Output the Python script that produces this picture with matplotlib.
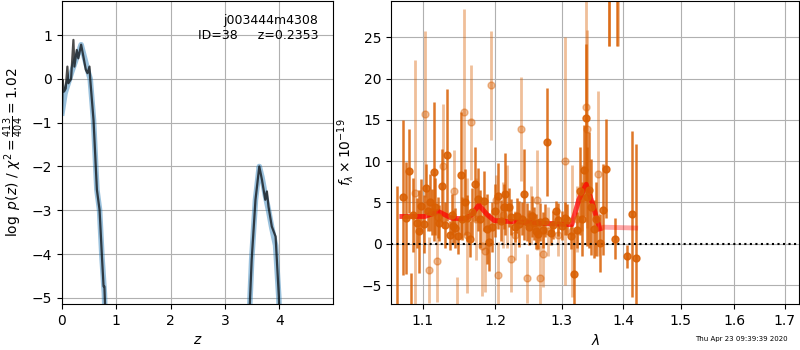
import numpy as np
import matplotlib
matplotlib.use("Agg")
import matplotlib.pyplot as plt
from matplotlib.ticker import FixedLocator, FixedFormatter, NullLocator

# ---------------- left panel: log p(z) ----------------
z_raw = [0.0, 0.012, 0.037, 0.068, 0.099, 0.117, 0.167, 0.21, 0.228, 0.272, 0.30,
         0.352, 0.395, 0.438, 0.469, 0.506, 0.519, 0.58, 0.642, 0.691, 0.735,
         0.765, 0.78, 0.796, 0.83,
         3.40, 3.45, 3.49, 3.56, 3.63, 3.68, 3.74, 3.77, 3.80, 3.86, 3.93, 3.99, 4.03]
logp_raw = [-0.78, -0.02, -0.29, -0.22, 0.28, -0.10, 0.0, 0.89, 0.28, 0.66, 0.47,
            0.78, 0.50, 0.21, 0.13, 0.28, 0.0, -0.94, -2.53, -2.99, -4.06,
            -4.74, -4.74, -5.3, -7.0,
            -7.0, -5.3, -4.13, -2.76, -2.0, -2.31, -2.76, -2.57, -2.92, -3.37, -3.60, -4.97, -7.0]

z_smooth = [0.0, 0.056, 0.179, 0.352, 0.488, 0.519, 0.58, 0.642, 0.691, 0.735, 0.78, 0.83,
            3.40, 3.45, 3.49, 3.56, 3.63, 3.68, 3.74, 3.80, 3.86, 3.93, 3.99, 4.03]
logp_smooth = [-0.78, -0.33, 0.16, 0.78, 0.13, 0.0, -0.94, -2.53, -2.99, -4.06, -4.9, -7.0,
               -7.0, -5.3, -4.13, -2.76, -2.0, -2.25, -2.65, -3.0, -3.4, -3.8, -5.0, -7.0]

label_obj = "j003444m4308"
label_id = "ID=38     z=0.2353"

# ---------------- right panel: spectrum ----------------
wave_a = [1.067, 1.075, 1.078, 1.082, 1.085, 1.088, 1.093, 1.095, 1.098, 1.102,
          1.104, 1.107, 1.110, 1.113, 1.115, 1.117, 1.120, 1.122, 1.126, 1.130,
          1.133, 1.137, 1.140, 1.141, 1.144, 1.148, 1.152, 1.154, 1.157, 1.160,
          1.164, 1.168, 1.172, 1.176, 1.179, 1.184, 1.188, 1.191, 1.196, 1.200,
          1.204, 1.208, 1.213, 1.215, 1.220, 1.224, 1.229, 1.232, 1.235, 1.239,
          1.243, 1.247, 1.250, 1.254, 1.258, 1.261, 1.264, 1.267, 1.271, 1.275,
          1.278, 1.283, 1.286, 1.291, 1.295, 1.300, 1.305, 1.309, 1.315, 1.320,
          1.325, 1.329, 1.333, 1.335, 1.338, 1.340, 1.343, 1.347, 1.352, 1.355,
          1.362, 1.367, 1.371, 1.376, 1.387, 1.390, 1.406, 1.414, 1.421]
flux_a = [-8.0, 5.6, 3.1, 8.8, -9.0, 3.5, 2.5, 1.5, 4.6, 2.4,
          6.7, 4.0, 5.0, 3.8, 8.7, 4.5, 3.2, 2.5, 7.0, 2.3,
          10.7, 1.0, 3.5, 2.1, 1.9, 0.9, 8.3, 3.0, 5.0, 3.1,
          0.6, 3.8, 7.2, 5.4, 3.0, 5.2, 1.8, 0.2, 2.0, 4.0,
          5.8, 2.8, 4.5, 6.0, 4.4, 3.2, 2.0, 3.4, 2.4, 3.0,
          6.0, 2.6, 2.0, 3.3, 2.5, 1.5, 1.2, 2.6, 1.7, 2.8,
          12.3, 1.3, 2.3, 4.0, 2.9, 2.2, 3.1, 2.9, 0.9, -3.7,
          1.7, 6.4, 3.0, 8.9, 15.2, 5.7, 6.5, 4.4, 1.8, 3.0,
          0.1, 4.1, 9.1, 38.0, 0.6, 37.0, -1.5, 3.6, -1.7]
err_a = [15.0, 9.4, 6.8, 5.1, 5.5, 4.5, 3.0, 5.0, 3.2, 3.5,
         3.0, 2.5, 3.5, 2.8, 8.4, 3.5, 2.5, 2.2, 4.5, 2.8,
         8.0, 1.8, 2.5, 2.0, 2.4, 2.2, 7.6, 2.6, 4.0, 2.8,
         2.2, 3.0, 4.5, 3.8, 3.5, 3.6, 4.2, 3.5, 3.0, 3.2,
         4.0, 2.5, 2.7, 5.0, 2.4, 2.2, 1.8, 2.1, 2.8, 2.0,
         5.5, 2.3, 2.1, 2.5, 2.0, 2.1, 1.8, 2.3, 2.2, 2.0,
         6.5, 1.5, 1.7, 1.2, 2.0, 1.8, 2.0, 1.9, 1.5, 5.5,
         2.2, 5.3, 4.5, 5.5, 9.0, 6.0, 7.0, 5.8, 3.5, 4.5,
         3.5, 5.5, 6.0, 14.0, 2.5, 13.0, 1.4, 10.0, 13.8]

wave_b = [1.090, 1.103, 1.109, 1.119, 1.128, 1.143, 1.146, 1.156, 1.160, 1.166,
          1.173, 1.182, 1.186, 1.194, 1.201, 1.204, 1.211, 1.218, 1.224, 1.229,
          1.238, 1.247, 1.253, 1.262, 1.267, 1.272, 1.279, 1.295, 1.305, 1.316,
          1.324, 1.332, 1.339, 1.341, 1.358, 1.377, 1.392]
flux_b = [6.2, 15.7, -3.2, -2.1, 9.4, 6.4, -8.5, 16.0, 1.0, 14.7,
          3.0, -0.3, -0.9, 19.2, 5.3, -3.8, 3.5, 4.5, -1.9, 1.0,
          13.9, -4.2, 3.5, 5.3, -4.2, -1.3, 1.5, 1.0, 10.0, 1.5,
          3.0, 5.5, 16.6, 13.9, 8.5, 38.0, 37.0]
err_b = [16.0, 10.0, 4.0, 5.0, 7.5, 5.0, 4.5, 12.4, 7.0, 7.0,
         5.0, 6.0, 5.0, 6.6, 3.0, 4.0, 4.0, 5.0, 4.0, 3.0,
         6.3, 3.0, 3.5, 6.0, 4.0, 4.0, 3.0, 2.5, 15.0, 8.0,
         4.0, 4.0, 14.0, 12.0, 10.0, 14.0, 13.0]

model_wave = [1.073, 1.103, 1.121, 1.139, 1.158, 1.167, 1.177, 1.189, 1.199, 1.243,
              1.278, 1.316, 1.327, 1.339, 1.349, 1.361, 1.368, 1.421]
model_flux = [3.3, 3.3, 3.9, 3.1, 3.0, 3.5, 4.7, 3.5, 2.8, 2.6,
              2.45, 2.3, 5.3, 7.2, 4.9, 1.8, 2.0, 1.9]
model_a_end = 1.361  # first beam model stops here

xticks_r = [1.1, 1.2, 1.3, 1.4, 1.5, 1.6, 1.7]
xtick_labels_r = ["1.1", "1.2", "1.3", "1.4", "1.5", "1.6", "1.7"]
date_text = "Thu Apr 23 09:39:39 2020"

# ---------------- figure ----------------
fig = plt.figure(figsize=(8, 3.5), dpi=100)
ax1 = fig.add_axes([0.0775, 0.1314, 0.339, 0.866])
ax2 = fig.add_axes([0.489, 0.1314, 0.51, 0.866])

ax1.plot(z_smooth, logp_smooth, color='tab:blue', alpha=0.45, lw=4)
ax1.plot(z_raw, logp_raw, color='k', alpha=0.7, lw=1.6)
ax1.set_xlim(0, 4.99)
ax1.set_ylim(-5.14, 1.78)
ax1.set_xticks([0, 1, 2, 3, 4])
ax1.set_yticks([-5, -4, -3, -2, -1, 0, 1])
ax1.grid(True)
ax1.set_xlabel(r'$z$')
ax1.set_ylabel(r'$\log\ p(z)$ / $\chi^2=\frac{413}{404}=1.02$')
ax1.text(0.945, 0.958, label_obj + "\n" + label_id, transform=ax1.transAxes,
         ha='right', va='top', fontsize=9, linespacing=1.2)

col = '#d95f02'
ax2.errorbar(wave_b, flux_b, yerr=err_b, color=col, alpha=0.4, marker='o',
             ms=5, linestyle='none', elinewidth=2.0)
ax2.errorbar(wave_a, flux_a, yerr=err_a, color=col, alpha=0.85, marker='o',
             ms=5, linestyle='none', elinewidth=1.8)
mw = np.array(model_wave)
mf = np.array(model_flux)
sel = mw <= model_a_end
ax2.plot(mw[sel], mf[sel], color='r', alpha=0.6, lw=3.5)
ax2.plot(mw, mf, color='r', alpha=0.35, lw=3.5)
ax2.axhline(0, color='k', ls=':', lw=1.5)
ax2.set_xscale('log')
ax2.set_xlim(1.0593, 1.7296)
ax2.set_ylim(-7.3, 29.4)
ax2.xaxis.set_major_locator(FixedLocator(xticks_r))
ax2.xaxis.set_major_formatter(FixedFormatter(xtick_labels_r))
ax2.xaxis.set_minor_locator(NullLocator())
ax2.set_yticks([-5, 0, 5, 10, 15, 20, 25])
ax2.grid(True)
ax2.set_xlabel(r'$\lambda$')
ax2.set_ylabel(r'$f_\lambda\times10^{-19}$')

fig.text(0.984, 0.031, date_text, ha='right', va='center', fontsize=5)

fig.savefig('out.png', dpi=100)
